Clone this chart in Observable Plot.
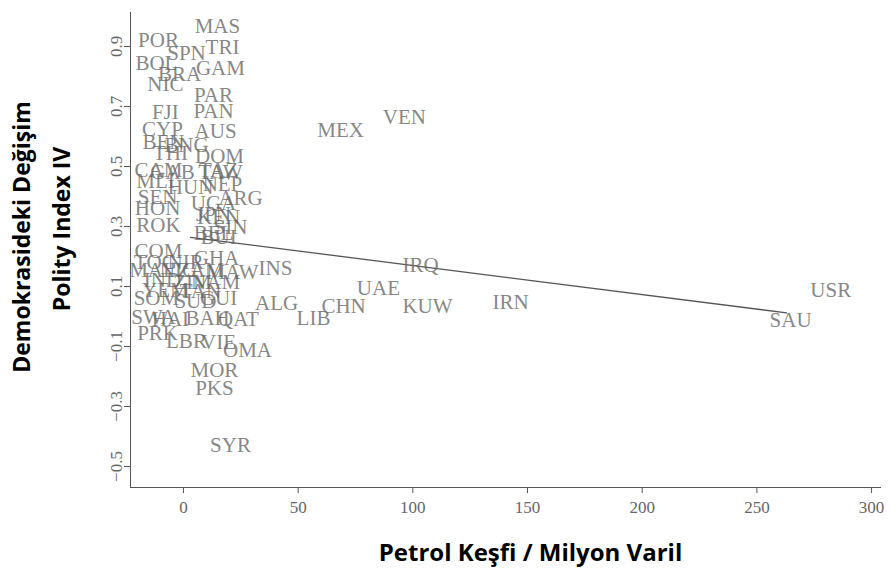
<!DOCTYPE html>
<html>
<head>
<meta charset="utf-8">
<script src="https://cdn.jsdelivr.net/npm/d3@7"></script>
<script src="https://cdn.jsdelivr.net/npm/@observablehq/plot@0.6"></script>
<style>
  html, body { margin: 0; padding: 0; background: #fff; }
  #chart svg { display: block; }
</style>
</head>
<body>
<div id="chart"></div>
<script>
// Country codes, oil discovery (million barrels), change in Polity IV
const codes = ["MAS","POR","TRI","SPN","BOL","GAM","BRA","NIC","PAR","FJI","PAN","CYP","AUS","MEX","VEN",
  "BEN","BNG","THI","DOM","CAM","GAB","TAW","TAZ","MLI","HUN","NEP","SEN","ARG","UGA","HON","JPN","KEN",
  "ROK","SIN","BEL","BUI","COM","GHA","TOG","NIR","INS","IRQ","MAL","NIG","ZAM","MAW","IND","ZIM","NAM",
  "YEM","TAN","UAE","USR","SOM","SUD","GUI","ALG","CHN","KUW","IRN","SWA","HAI","BAH","QAT","LIB","SAU",
  "PRK","LBR","VIE","OMA","MOR","PKS","SYR"];
const oil = [14.8,-10.9,17.0,1.3,-11.8,16.1,-1.7,-7.9,13.1,-7.9,13.1,-9.2,14.0,68.5,96.3,
  -8.7,1.3,-5.7,15.7,-10.9,-4.8,16.1,15.3,-12.2,3.1,17.0,-11.3,24.9,13.1,-11.3,13.1,15.3,
  -10.9,20.5,13.1,15.3,-10.9,14.4,-12.2,0.9,40.1,103.4,-13.5,-2.2,7.4,21.4,-9.2,3.9,14.0,
  -7.9,7.4,85.0,282.2,-11.8,5.2,15.3,40.6,69.8,106.4,142.6,-13.1,-5.7,10.5,24.0,56.7,264.7,
  -11.3,1.3,15.3,27.9,13.5,13.5,20.5];
const polity = [0.967,0.92,0.897,0.877,0.843,0.827,0.807,0.773,0.737,0.68,0.683,0.623,0.617,0.62,0.663,
  0.58,0.57,0.543,0.533,0.487,0.48,0.48,0.487,0.45,0.43,0.44,0.397,0.393,0.377,0.36,0.34,0.33,
  0.303,0.297,0.277,0.263,0.217,0.193,0.18,0.18,0.16,0.17,0.153,0.153,0.153,0.147,0.12,0.113,0.113,
  0.087,0.083,0.093,0.087,0.06,0.05,0.06,0.043,0.033,0.033,0.047,-0.003,-0.01,-0.007,-0.01,-0.007,-0.013,
  -0.057,-0.083,-0.087,-0.113,-0.18,-0.24,-0.43];

// Fitted line endpoints
const fitX = [3, 263];
const fitY = [0.264, 0.012];

const xTicks = [0, 50, 100, 150, 200, 250, 300];
const yTicks = [-0.5, -0.3, -0.1, 0.1, 0.3, 0.5, 0.7, 0.9];

const points = codes.map((c, i) => ({code: c, x: oil[i], y: polity[i]}));
const fit = fitX.map((x, i) => ({x, y: fitY[i]}));

const serif = "'Liberation Serif', 'DejaVu Serif', serif";
const sans = "'Open Sans', 'Noto Sans', sans-serif";

const chart = Plot.plot({
  width: 890,
  height: 579,
  marginLeft: 130,
  marginRight: 10,
  marginTop: 12,
  marginBottom: 92,
  style: {fontFamily: serif, background: "#fff"},
  x: {domain: [-23.1, 303.9]},
  y: {domain: [-0.57, 1.0133]},
  marks: [
    Plot.axisX({ticks: xTicks, tickSize: 6, tickPadding: 7, fontSize: 17, fill: "#666", stroke: "#555", label: null, tickFormat: d3.format("d")}),
    Plot.axisY({ticks: yTicks, tickSize: 6, tickPadding: 3, fontSize: 17, fill: "#666", stroke: "#555", label: null, tickRotate: -90, tickFormat: d3.format(".1f")}),
    Plot.frame({anchor: "left", stroke: "#555"}),
    Plot.frame({anchor: "bottom", stroke: "#555"}),
    Plot.line(fit, {x: "x", y: "y", stroke: "#555", strokeWidth: 1.3}),
    Plot.text(points, {x: "x", y: "y", text: "code", fontSize: 21, fill: "#666", fillOpacity: 0.8, fontFamily: serif}),
    Plot.text(["Demokrasideki Değişim"], {frameAnchor: "left", textAnchor: "middle", lineAnchor: "middle", rotate: -90, dx: -108, dy: -13, fontSize: 23, fontWeight: "bold", fill: "#000", fontFamily: sans}),
    Plot.text(["Polity Index IV"], {frameAnchor: "left", textAnchor: "middle", lineAnchor: "middle", rotate: -90, dx: -68, dy: -21, fontSize: 23, fontWeight: "bold", fill: "#000", fontFamily: sans}),
    Plot.text(["Petrol Keşfi / Milyon Varil"], {frameAnchor: "bottom", textAnchor: "middle", lineAnchor: "middle", dx: 25, dy: 66, fontSize: 24, fontWeight: "bold", fill: "#000", fontFamily: sans})
  ]
});
document.getElementById("chart").appendChild(chart);
</script>
</body>
</html>
